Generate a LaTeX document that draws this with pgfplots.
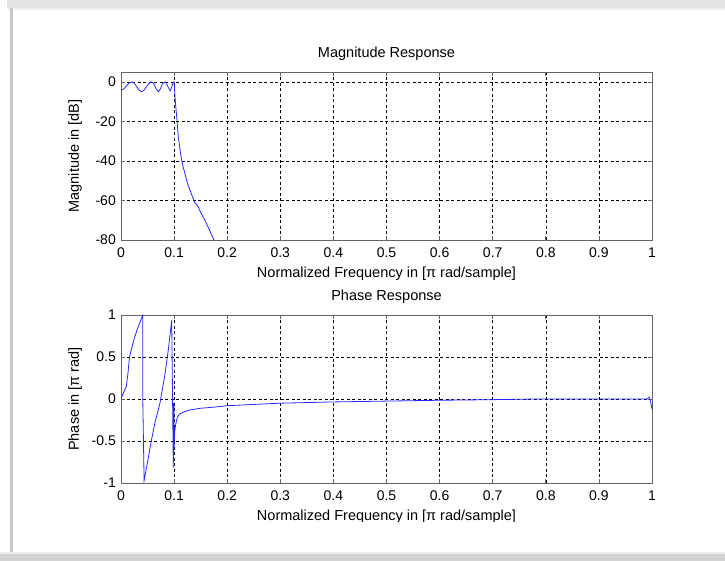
\documentclass[border=0pt]{standalone}
\usepackage{fontspec}
\setmainfont{Liberation Sans}
\usepackage{pgfplots}
\pgfplotsset{compat=1.18}
\definecolor{mblue}{RGB}{40,40,255}
\definecolor{frameg}{RGB}{100,100,100}
\pgfplotsset{
  mstyle/.style={
    scale only axis, width=531pt, height=168pt,
    xmin=0, xmax=1,
    xtick={0,0.1,...,1.0},
    xticklabels={0,0.1,0.2,0.3,0.4,0.5,0.6,0.7,0.8,0.9,1},
    tick align=inside, major tick length=4pt,
    xtick pos=both, ytick pos=both,
    axis line style={frameg, line width=0.9pt},
    every tick/.style={frameg, line width=0.7pt},
    grid=major,
    major grid style={black, dash pattern=on 3pt off 2.5pt, line width=0.6pt},
    tick label style={font=\fontsize{14}{16}\selectfont, black},
    /pgf/number format/assume math mode=true,
    xticklabel style={anchor=center, yshift=-13pt, inner sep=0pt},
    yticklabel style={anchor=east, xshift=-5pt, inner sep=0pt},
    every axis x label/.style={at={(axis description cs:0.5,-0.203)}, anchor=center, font=\fontsize{14.5}{17}\selectfont},
    every axis y label/.style={at={(axis description cs:-0.0866,0.5)}, rotate=90, anchor=center, font=\fontsize{14.5}{17}\selectfont},
    every axis title/.style={at={(axis description cs:0.5,1.107)}, anchor=center, font=\fontsize{14.5}{17}\selectfont},
    clip=true,
  }
}
\begin{document}
\begin{tikzpicture}[x=1pt,y=1pt]
\path[use as bounding box] (0,0) rectangle (725,561);
\fill[white] (0,0) rectangle (725,561);
% screenshot frame
\fill[gray!22] (7,553) rectangle (725,561);
\fill[gray!10] (7,551) rectangle (725,553);
\fill[gray!45] (10,6) rectangle (13,553);
\fill[gray!35] (0,0) rectangle (725,7);
\fill[gray!15] (0,7) rectangle (725,9);

\begin{axis}[mstyle, at={(121pt,321pt)}, anchor=south west,
  ymin=-80, ymax=5, ytick={-80,-60,-40,-20,0},
  title={Magnitude Response},
  xlabel={Normalized Frequency in [π rad/sample]},
  ylabel={Magnitude in [dB]}]
\addplot[mblue, line width=0.8pt] coordinates {
(0,-4.2)(0.005,-3.6)(0.01,-2.2)(0.015,-0.6)(0.0206,0)(0.025,-0.6)(0.03,-2.6)(0.035,-4.4)(0.039,-5)(0.044,-4)(0.05,-1.6)(0.055,-0.2)(0.058,0)
(0.062,-1)(0.066,-3.4)(0.0706,-5)(0.074,-3.6)(0.078,-1)(0.083,0)(0.087,-1.6)(0.0925,-4.6)(0.095,-3)(0.098,-0.6)(0.1,0)
(0.101,-4)(0.102,-9)(0.105,-18)(0.108,-28)(0.112,-36)(0.116,-42)(0.12,-46)(0.126,-52)(0.133,-57)(0.139,-61)(0.145,-63)
(0.15,-66)(0.158,-70)(0.165,-74)(0.17,-77)(0.175,-80)(0.18,-83)
};
\end{axis}

\begin{axis}[mstyle, at={(121pt,78pt)}, anchor=south west,
  ymin=-1, ymax=1, ytick={-1,-0.5,0,0.5,1},
  yticklabels={-1,-0.5,0,0.5,1},
  title={Phase Response},
  xlabel={Normalized Frequency in [π rad/sample]},
  ylabel={Phase in [π rad]}]
\addplot[mblue, line width=0.8pt] coordinates {
(0,0)(0.005,0.08)(0.01,0.15)(0.013,0.3)(0.016,0.5)(0.02,0.6)(0.025,0.72)(0.03,0.82)(0.035,0.9)(0.041,1)(0.041,0)
(0.0435,-0.97)(0.05,-0.75)(0.057,-0.5)(0.064,-0.28)(0.073,-0.06)(0.082,0.26)(0.089,0.58)(0.093,0.8)(0.0955,0.94)
(0.0985,-0.82)(0.0995,-0.05)(0.1,-0.6)(0.101,-0.4)(0.103,-0.3)(0.106,-0.22)(0.11,-0.18)(0.12,-0.15)(0.13,-0.13)
(0.15,-0.11)(0.17,-0.1)(0.2,-0.08)(0.25,-0.065)(0.3,-0.05)(0.4,-0.035)(0.5,-0.025)(0.6,-0.015)(0.7,-0.008)(0.78,0)
(0.99,0)(0.995,0.02)(0.998,-0.05)(1,-0.12)
};
\end{axis}
% the lower x label is cut off in the reference
\fill[white] (14,9) rectangle (725,39);
\end{tikzpicture}
\end{document}
